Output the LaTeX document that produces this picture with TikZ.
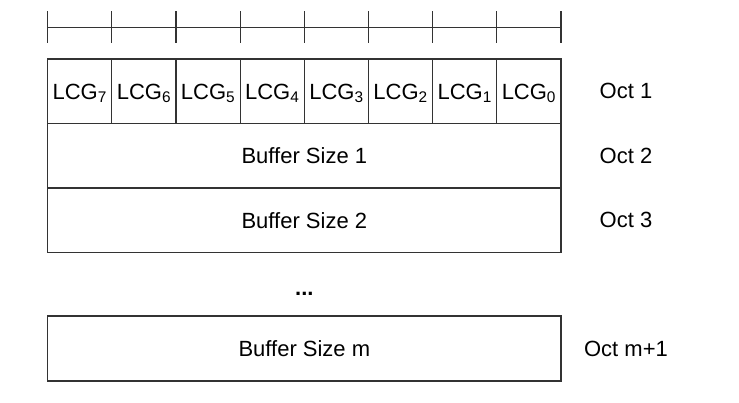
\documentclass[tikz,border=0pt]{standalone}
\usepackage{fontspec}
\setmainfont{Liberation Sans}
\usetikzlibrary{positioning}

\tikzset{
  field/.style={rectangle, draw=black!80, line width=1.1pt, inner sep=0pt,
                outer sep=0pt, minimum height=64.5pt, text height=15.7pt,
                text depth=0pt, font=\fontsize{22}{26}\selectfont},
  lcg/.style={field, minimum width=64.16pt},
  wide/.style={field, minimum width=513.3pt},
  octlabel/.style={font=\fontsize{22}{26}\selectfont, xshift=65pt},
  ruler/.style={draw=black!80, line width=1.1pt}
}

\begin{document}
\begin{tikzpicture}[x=1pt,y=-1pt]
      \useasboundingbox (0,0) rectangle (739,402);
      \begin{scope}
        % bit ruler above the octets
        \draw[ruler] (47.7,27.7) -- (561,27.7);
        \foreach \i in {0,...,8}
          \draw[ruler] (47.7+64.16*\i,11) -- (47.7+64.16*\i,43.3);
        % Oct 1: one bit per LCG
        \node[lcg, anchor=north west] (lcg7) at (47.7,59) {LCG\textsubscript{7}};
        \node[lcg, right=0pt of lcg7] (lcg6) {LCG\textsubscript{6}};
        \node[lcg, right=0pt of lcg6] (lcg5) {LCG\textsubscript{5}};
        \node[lcg, right=0pt of lcg5] (lcg4) {LCG\textsubscript{4}};
        \node[lcg, right=0pt of lcg4] (lcg3) {LCG\textsubscript{3}};
        \node[lcg, right=0pt of lcg3] (lcg2) {LCG\textsubscript{2}};
        \node[lcg, right=0pt of lcg2] (lcg1) {LCG\textsubscript{1}};
        \node[lcg, right=0pt of lcg1] (lcg0) {LCG\textsubscript{0}};
        % buffer size octets
        \node[wide, anchor=north west] (bs1) at (lcg7.south west) {Buffer Size 1};
        \node[wide, anchor=north west] (bs2) at (bs1.south west) {Buffer Size 2};
        \node[font=\fontsize{22}{26}\selectfont\bfseries] (dots) at (304.3,293.5) {...};
        \node[wide, anchor=north west, minimum height=65pt] (bsm) at (47.7,316) {Buffer Size m};
        % octet numbers
        \node[octlabel] (oct1) at (lcg0.east) {Oct 1};
        \node[octlabel] (oct2) at (bs1.east) {Oct 2};
        \node[octlabel] (oct3) at (bs2.east) {Oct 3};
        \node[octlabel] (octm) at (bsm.east) {Oct m+1};
      \end{scope}
    \end{tikzpicture}
\end{document}
